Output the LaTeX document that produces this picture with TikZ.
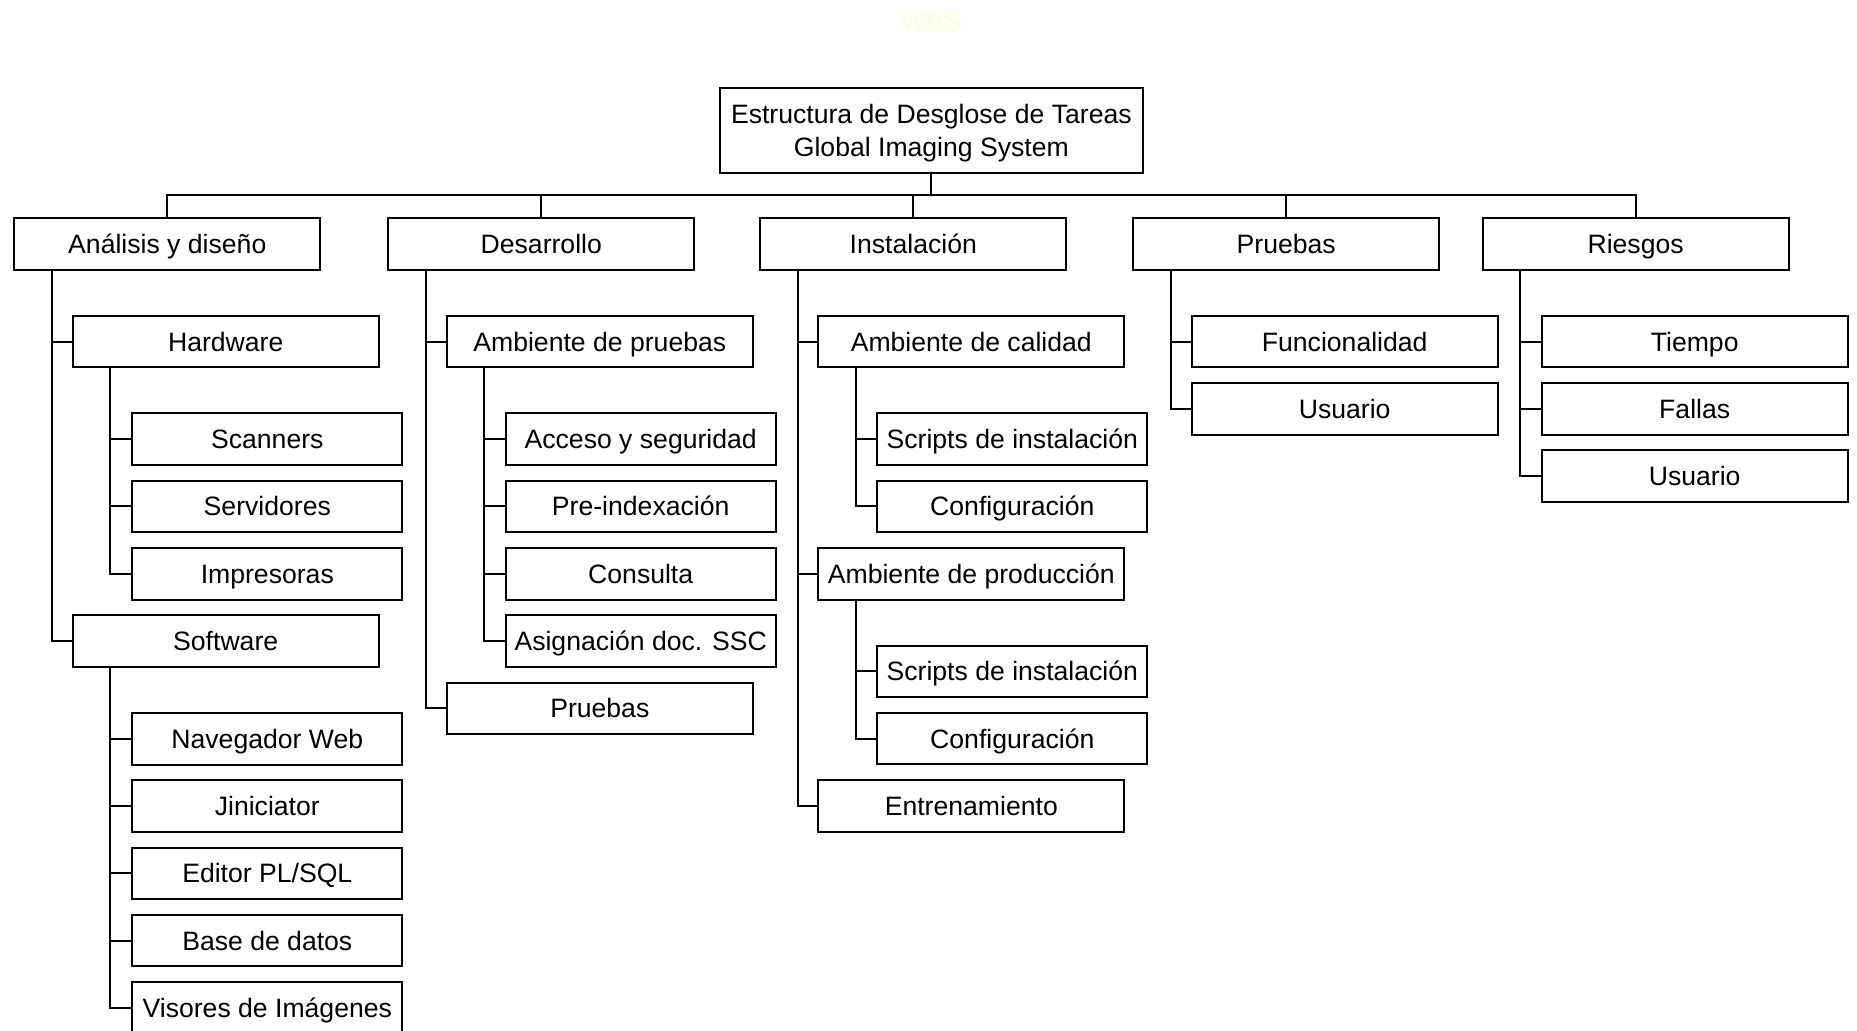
\documentclass[tikz,border=0pt]{standalone}
\usepackage{fontspec}
\setmainfont{Liberation Sans}
\newcommand\wbsfont{\fontsize{13.3}{15.5}\selectfont}
\newcommand\rootfont{\fontsize{13.3}{16.5}\selectfont}
\definecolor{palewbs}{RGB}{255,255,208}
\tikzset{
  box/.style={draw, line width=1pt, rectangle, minimum height=25.75pt,
    inner xsep=0pt, inner ysep=0pt, outer sep=0pt,
    text height=9.5pt, text depth=0pt, font=\wbsfont},
  wide/.style={box, minimum width=153pt},
  narrow/.style={box, minimum width=135pt},
  rootbox/.style={draw, line width=1pt, rectangle, minimum width=211.35pt,
    minimum height=42.5pt, inner sep=0pt, outer sep=0pt, align=center,
    text height=26pt, text depth=0pt, font=\rootfont},
  link/.style={line width=1pt},
}
\begin{document}
\begin{tikzpicture}[x=0.5pt, y=-0.5pt]
  \fill[white] (0,0) rectangle (1857,1031);
  \useasboundingbox (0,0) rectangle (1857,1031);

  % title
  \node[font=\wbsfont, text=palewbs, text height=9.5pt, text depth=0pt, inner sep=0pt] (title) at (930.5,21) {WBS};

  % root
  \node[rootbox] (root) at (931.35,130.2) {Estructura de Desglose de Tareas\\Global Imaging System};
  \coordinate (bus) at (0,195);

  % level 1
  \node[wide] (an)  at (167.3,244.25)  {Análisis y diseño};
  \node[wide] (de)  at (541.3,244.25)  {Desarrollo};
  \node[wide] (ins) at (913.3,244.25)  {Instalación};
  \node[wide] (pr)  at (1286.2,244.25) {Pruebas};
  \node[wide] (ri)  at (1635.6,244.25) {Riesgos};

  % Análisis y diseño
  \node[wide]   (hw) at (225.7,341.75)  {Hardware};
  \node[narrow] (sc) at (267.3,439.25)  {Scanners};
  \node[narrow] (sv) at (267.3,506.5)   {Servidores};
  \node[narrow] (im) at (267.3,573.75)  {Impresoras};
  \node[wide]   (sw) at (225.7,640.75)  {Software};
  \node[narrow] (nw) at (267.3,738.75)  {Navegador Web};
  \node[narrow] (ji) at (267.3,806)     {Jiniciator};
  \node[narrow] (ed) at (267.3,873.25)  {Editor PL/SQL};
  \node[narrow] (bd) at (267.3,940.5)   {Base de datos};
  \node[narrow] (vi) at (267.3,1007.75) {Visores de Imágenes};

  % Desarrollo
  \node[wide]   (ap) at (599.8,341.75) {Ambiente de pruebas};
  \node[narrow] (ac) at (640.7,439.25) {Acceso y seguridad};
  \node[narrow] (pi) at (640.7,506.5)  {Pre-indexación};
  \node[narrow] (co) at (640.7,573.75) {Consulta};
  \node[narrow] (as) at (640.7,641)    {Asignación doc. SSC};
  \node[wide]   (dp) at (599.8,708.25) {Pruebas};

  % Instalación
  \node[wide]   (ca) at (971.3,341.75)  {Ambiente de calidad};
  \node[narrow] (s1) at (1012.3,439.25) {Scripts de instalación};
  \node[narrow] (c1) at (1012.3,506.5)  {Configuración};
  \node[wide]   (pd) at (971.3,573.75)  {Ambiente de producción};
  \node[narrow] (s2) at (1012.3,671.25) {Scripts de instalación};
  \node[narrow] (c2) at (1012.3,738.5)  {Configuración};
  \node[wide]   (en) at (971.3,805.75)  {Entrenamiento};

  % Pruebas
  \node[wide] (fu) at (1344.7,341.75) {Funcionalidad};
  \node[wide] (us) at (1344.7,409)    {Usuario};

  % Riesgos
  \node[wide] (ti) at (1694.7,341.75) {Tiempo};
  \node[wide] (fa) at (1694.7,409)    {Fallas};
  \node[wide] (u2) at (1694.7,476.25) {Usuario};

  % root to first level over a common bus
  \foreach \c in {an,de,ins,pr,ri}
    \draw[link] (root.south) -- (root.south |- bus) -| (\c.north);

  % elbow connectors from each parent's trunk
  \foreach \p/\c in {an/hw, an/sw, hw/sc, hw/sv, hw/im,
                     sw/nw, sw/ji, sw/ed, sw/bd, sw/vi,
                     de/ap, de/dp, ap/ac, ap/pi, ap/co, ap/as,
                     ins/ca, ins/pd, ins/en, ca/s1, ca/c1, pd/s2, pd/c2,
                     pr/fu, pr/us, ri/ti, ri/fa, ri/u2}
    \draw[link] ([xshift=18.75pt]\p.south west) |- (\c.west);
\end{tikzpicture}
\end{document}
